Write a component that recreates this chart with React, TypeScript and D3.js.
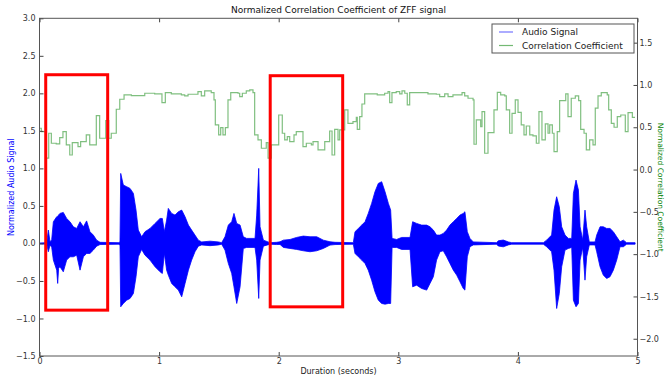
import React, { useEffect, useRef } from 'react';
import * as d3 from 'd3';

// Audio signal envelope (seconds, upper, lower)
const audioTime = [
  0, 0.06, 0.074, 0.088, 0.102, 0.116, 0.144, 0.152, 0.16, 0.171, 0.199, 0.227, 0.255, 0.283, 0.311, 0.339,
  0.367, 0.394, 0.422, 0.45, 0.478, 0.506, 0.659, 0.673, 0.679, 0.701, 0.729, 0.757, 0.785, 0.807, 0.826,
  0.854, 0.882, 0.924, 0.966, 1.008, 1.027, 1.044, 1.063, 1.077, 1.105, 1.133, 1.161, 1.189, 1.217, 1.245,
  1.272, 1.3, 1.328, 1.356, 1.426, 1.496, 1.523, 1.551, 1.579, 1.607, 1.626, 1.649, 1.677, 1.704, 1.732,
  1.802, 1.816, 1.833, 1.844, 1.872, 1.927, 1.983, 2.011, 2.039, 2.095, 2.15, 2.206, 2.262, 2.318, 2.373,
  2.429, 2.471, 2.624, 2.638, 2.666, 2.694, 2.722, 2.749, 2.777, 2.805, 2.833, 2.861, 2.889, 2.917, 2.936,
  2.948, 2.986, 3.028, 3.098, 3.12, 3.153, 3.195, 3.237, 3.265, 3.293, 3.32, 3.348, 3.376, 3.404, 3.432,
  3.46, 3.488, 3.516, 3.543, 3.557, 3.577, 3.599, 3.627, 3.822, 3.836, 3.878, 3.92, 3.948, 4.213, 4.24,
  4.282, 4.302, 4.324, 4.346, 4.366, 4.394, 4.422, 4.45, 4.464, 4.486, 4.506, 4.52, 4.542, 4.561, 4.575,
  4.597, 4.645, 4.659, 4.687, 4.714, 4.742, 4.77, 4.798, 4.826, 4.854, 4.882, 4.909, 4.937, 4.98,
];
const audioUpper = [
  0.005, 0.01, 0.178, 0.02, 0.05, 0.289, 0.356, 0.36, 0.38, 0.4, 0.413, 0.333, 0.289, 0.222, 0.2, 0.289,
  0.222, 0.3, 0.156, 0.111, 0.044, 0.015, 0.01, 0.02, 0.933, 0.778, 0.756, 0.733, 0.667, 0.444, 0.178,
  0.089, 0.156, 0.2, 0.267, 0.333, 0.333, 0.156, 0.311, 0.467, 0.4, 0.378, 0.422, 0.444, 0.356, 0.244,
  0.178, 0.111, 0.044, 0.02, 0.03, 0.02, 0.01, 0.089, 0.244, 0.289, 0.4, 0.267, 0.244, 0.089, 0.067,
  0.067, 0.378, 1.0, 0.222, 0.044, 0.01, 0.015, 0.022, 0.044, 0.053, 0.08, 0.098, 0.089, 0.089, 0.044,
  0.022, 0.015, 0.01, 0.156, 0.2, 0.244, 0.289, 0.4, 0.533, 0.689, 0.8, 0.822, 0.689, 0.533, 0.444,
  0.067, 0.053, 0.08, 0.08, 0.289, 0.267, 0.244, 0.244, 0.222, 0.178, 0.111, 0.111, 0.133, 0.178, 0.244,
  0.289, 0.333, 0.378, 0.4, 0.422, 0.156, 0.067, 0.02, 0.01, 0.035, 0.045, 0.02, 0.01, 0.01, 0.044,
  0.111, 0.444, 0.622, 0.489, 0.222, 0.111, 0.067, 0.067, 0.667, 0.844, 0.711, 0.222, 0.044, 0.444, 0.222,
  0.02, 0.02, 0.111, 0.222, 0.222, 0.2, 0.2, 0.156, 0.089, 0.022, 0.044, 0.01, 0.01, 0.01,
];
const audioLower = [
  -0.005, -0.01, -0.111, -0.02, -0.05, -0.222, -0.356, -0.533, -0.33, -0.311, -0.378, -0.222, -0.178, -0.178, -0.156, -0.356,
  -0.178, -0.133, -0.133, -0.089, -0.036, -0.015, -0.01, -0.02, -0.844, -0.8, -0.756, -0.733, -0.667, -0.444, -0.178,
  -0.08, -0.156, -0.222, -0.311, -0.378, -0.4, -0.133, -0.356, -0.422, -0.533, -0.578, -0.622, -0.711, -0.533, -0.356,
  -0.222, -0.111, -0.036, -0.02, -0.03, -0.02, -0.01, -0.089, -0.267, -0.4, -0.578, -0.8, -0.578, -0.067, -0.053,
  -0.053, -0.222, -0.733, -0.222, -0.036, -0.01, -0.015, -0.013, -0.053, -0.067, -0.08, -0.098, -0.111, -0.098, -0.067,
  -0.022, -0.015, -0.01, -0.133, -0.178, -0.222, -0.267, -0.356, -0.489, -0.644, -0.756, -0.8, -0.809, -0.8, -0.8,
  -0.053, -0.053, -0.08, -0.08, -0.578, -0.556, -0.6, -0.622, -0.533, -0.444, -0.222, -0.111, -0.098, -0.178, -0.267,
  -0.356, -0.422, -0.511, -0.6, -0.622, -0.178, -0.044, -0.02, -0.01, -0.035, -0.045, -0.02, -0.01, -0.01, -0.044,
  -0.111, -0.356, -0.867, -0.667, -0.311, -0.089, -0.067, -0.053, -0.756, -0.844, -0.8, -0.222, -0.053, -0.489, -0.178,
  -0.02, -0.02, -0.111, -0.311, -0.422, -0.467, -0.444, -0.356, -0.222, -0.044, -0.044, -0.01, -0.01, -0.01,
];

// Correlation coefficient steps: value held from each time until the next
const corrTime = [
  0, 0.015, 0.057, 0.077, 0.099, 0.14, 0.169, 0.196, 0.224, 0.253, 0.274, 0.322, 0.344, 0.391, 0.42, 0.475,
  0.503, 0.554, 0.579, 0.6, 0.642, 0.671, 0.707, 0.768, 0.88, 0.963, 1.024, 1.052, 1.102, 1.186, 1.214,
  1.242, 1.325, 1.353, 1.381, 1.436, 1.459, 1.47, 1.498, 1.515, 1.534, 1.554, 1.576, 1.599, 1.66, 1.674,
  1.696, 1.729, 1.758, 1.785, 1.799, 1.827, 1.855, 1.896, 1.911, 1.938, 2.0, 2.03, 2.05, 2.072, 2.092,
  2.128, 2.147, 2.203, 2.231, 2.273, 2.287, 2.329, 2.385, 2.426, 2.446, 2.468, 2.496, 2.51, 2.552, 2.579,
  2.621, 2.649, 2.657, 2.677, 2.696, 2.719, 2.824, 2.886, 2.914, 2.928, 2.947, 2.983, 3.012, 3.031, 3.054,
  3.075, 3.095, 3.248, 3.318, 3.346, 3.388, 3.416, 3.457, 3.533, 3.555, 3.583, 3.625, 3.633, 3.652, 3.689,
  3.7, 3.722, 3.75, 3.8, 3.828, 3.856, 3.89, 3.903, 3.931, 3.951, 3.978, 4.001, 4.028, 4.051, 4.07,
  4.099, 4.126, 4.154, 4.176, 4.201, 4.229, 4.252, 4.266, 4.288, 4.302, 4.329, 4.349, 4.4, 4.419, 4.446,
  4.48, 4.508, 4.525, 4.553, 4.572, 4.6, 4.628, 4.647, 4.67, 4.697, 4.747, 4.759, 4.781, 4.804, 4.831,
  4.86, 4.898, 4.921, 4.957,
];
const corrValue = [
  0.488, 0.448, 0.134, 0.429, 0.311, 0.303, 0.377, 0.448, 0.291, 0.172, 0.318, 0.271, 0.33, 0.409, 0.291, 0.637,
  0.37, 0.578, 0.37, 0.429, 0.713, 0.831, 0.882, 0.874, 0.902, 0.894, 0.791, 0.909, 0.894, 0.882, 0.87,
  0.89, 0.921, 0.87, 0.929, 0.909, 0.823, 0.528, 0.409, 0.495, 0.409, 0.495, 0.823, 0.909, 0.902, 0.862,
  0.902, 0.929, 0.941, 0.909, 0.409, 0.35, 0.252, 0.318, 0.134, 0.291, 0.645, 0.429, 0.35, 0.389, 0.33,
  0.409, 0.448, 0.271, 0.311, 0.291, 0.33, 0.232, 0.33, 0.456, 0.172, 0.476, 0.35, 0.468, 0.705, 0.547,
  0.566, 0.618, 0.476, 0.625, 0.775, 0.894, 0.882, 0.902, 0.921, 0.791, 0.909, 0.921, 0.894, 0.929, 0.902,
  0.764, 0.909, 0.894, 0.89, 0.862, 0.894, 0.862, 0.882, 0.909, 0.87, 0.843, 0.823, 0.299, 0.587, 0.507,
  0.684, 0.193, 0.436, 0.705, 0.913, 0.882, 0.87, 0.705, 0.429, 0.665, 0.823, 0.677, 0.528, 0.409, 0.515,
  0.409, 0.397, 0.311, 0.684, 0.35, 0.539, 0.429, 0.528, 0.429, 0.212, 0.448, 0.815, 0.894, 0.625, 0.843,
  0.87, 0.815, 0.476, 0.429, 0.232, 0.35, 0.291, 0.725, 0.87, 0.909, 0.882, 0.705, 0.547, 0.5, 0.625,
  0.645, 0.448, 0.673, 0.618,
];
const corrEnd = 4.979;

// Highlighted regions (seconds, left-axis units)
const boxStart = [0.052, 1.929];
const boxEnd = [0.57, 2.535];
const boxTop = [2.248, 2.235];
const boxBottom = [-0.889, -0.845];

const xTicks = [0, 1, 2, 3, 4, 5];
const leftTicks = [3.0, 2.5, 2.0, 1.5, 1.0, 0.5, 0.0, -0.5, -1.0, -1.5];
const rightTicks = [1.5, 1.0, 0.5, 0.0, -0.5, -1.0, -1.5, -2.0];
const legendLabels = ['Audio Signal', 'Correlation Coefficient'];

const App = () => {
  const svgRef = useRef<SVGSVGElement>(null);

  const width = 666;
  const height = 376;
  const margin = { top: 18.3, right: 28.5, bottom: 20, left: 39.5 };
  const font = 'DejaVu Sans, sans-serif';
  const blue = '#0000ff';
  const green = '#008000';

  useEffect(() => {
    document.body.style.margin = '0';
    const svg = d3.select(svgRef.current);
    svg.selectAll('*').remove();

    const x = d3.scaleLinear().domain([0, 5]).range([margin.left, width - margin.right]);
    const yL = d3.scaleLinear().domain([-1.5, 3]).range([height - margin.bottom, margin.top]);
    const yR = d3.scaleLinear().domain([-2.204, 1.788]).range([height - margin.bottom, margin.top]);
    const x0 = x(0), x1 = x(5), y0 = yL(-1.5), y1 = yL(3);

    svg.append('rect').attr('width', width).attr('height', height).attr('fill', '#fff');

    svg.append('clipPath').attr('id', 'plot-clip')
      .append('rect').attr('x', x0).attr('y', y1).attr('width', x1 - x0).attr('height', y0 - y1);

    const plot = svg.append('g').attr('clip-path', 'url(#plot-clip)');

    // Audio waveform envelope
    const audio = audioTime.map((t, i) => ({ t, hi: audioUpper[i], lo: audioLower[i] }));
    const area = d3.area<{ t: number; hi: number; lo: number }>()
      .x((d) => x(d.t))
      .y0((d) => yL(d.lo))
      .y1((d) => yL(d.hi));
    plot.append('path').datum(audio).attr('d', area)
      .attr('fill', blue).attr('stroke', blue).attr('stroke-width', 0.8);

    // Correlation step line
    const corr = corrTime.map((t, i) => ({ t, v: corrValue[i] }));
    corr.push({ t: corrEnd, v: corrValue[corrValue.length - 1] });
    const line = d3.line<{ t: number; v: number }>()
      .x((d) => x(d.t))
      .y((d) => yR(d.v))
      .curve(d3.curveStepAfter);
    plot.append('path').datum(corr).attr('d', line)
      .attr('fill', 'none').attr('stroke', green).attr('stroke-opacity', 0.5).attr('stroke-width', 1.2);

    // Red highlight boxes
    svg.append('g').selectAll('rect').data(boxStart).enter().append('rect')
      .attr('x', (d) => x(d))
      .attr('y', (_, i) => yL(boxTop[i]))
      .attr('width', (d, i) => x(boxEnd[i]) - x(d))
      .attr('height', (_, i) => yL(boxBottom[i]) - yL(boxTop[i]))
      .attr('fill', 'none').attr('stroke', '#ff0000').attr('stroke-width', 3);

    // Axes
    const styleAxis = (g: any, size = 8) => {
      g.selectAll('.domain').remove();
      g.selectAll('line').attr('stroke', '#444');
      g.selectAll('text').style('font-family', font).style('font-size', `${size}px`).attr('fill', '#333');
    };
    const fmt = d3.format('.1f');

    const bottom = svg.append('g').attr('transform', `translate(0,${y0})`)
      .call(d3.axisBottom(x).tickValues(xTicks).tickFormat(d3.format('d')).tickSize(-4).tickPadding(2));
    styleAxis(bottom);
    const top = svg.append('g').attr('transform', `translate(0,${y1})`)
      .call(d3.axisTop(x).tickValues(xTicks).tickFormat(() => '').tickSize(-4));
    styleAxis(top);
    const left = svg.append('g').attr('transform', `translate(${x0},0)`)
      .call(d3.axisLeft(yL).tickValues(leftTicks).tickFormat(fmt).tickSize(-4).tickPadding(4));
    styleAxis(left);
    const right = svg.append('g').attr('transform', `translate(${x1},0)`)
      .call(d3.axisRight(yR).tickValues(rightTicks).tickFormat(fmt).tickSize(-4).tickPadding(2));
    styleAxis(right);

    svg.append('rect').attr('x', x0).attr('y', y1).attr('width', x1 - x0).attr('height', y0 - y1)
      .attr('fill', 'none').attr('stroke', '#555').attr('stroke-width', 1);

    // Titles
    svg.append('text').attr('x', (x0 + x1) / 2).attr('y', 13).attr('text-anchor', 'middle')
      .style('font-family', font).style('font-size', '9px').attr('fill', '#111')
      .text('Normalized Correlation Coefficient of ZFF signal');
    svg.append('text').attr('x', (x0 + x1) / 2).attr('y', 374).attr('text-anchor', 'middle')
      .style('font-family', font).style('font-size', '8px').attr('fill', '#222')
      .text('Duration (seconds)');
    svg.append('text').attr('transform', `translate(14,${(y0 + y1) / 2}) rotate(-90)`).attr('text-anchor', 'middle')
      .style('font-family', font).style('font-size', '8px').attr('fill', blue)
      .text('Normalized Audio Signal');
    svg.append('text').attr('transform', `translate(658,${(y0 + y1) / 2}) rotate(90)`).attr('text-anchor', 'middle')
      .style('font-family', font).style('font-size', '7.5px').attr('fill', green)
      .text('Normalized Correlation Coefficient');

    // Legend
    const legend = svg.append('g').attr('transform', 'translate(492,24)');
    legend.append('rect').attr('width', 142).attr('height', 29)
      .attr('fill', '#fff').attr('stroke', '#555').attr('stroke-width', 1);
    legendLabels.forEach((label, i) => {
      const ly = 8 + i * 13.5;
      legend.append('line').attr('x1', 7).attr('x2', 21).attr('y1', ly).attr('y2', ly)
        .attr('stroke', i === 0 ? blue : green).attr('stroke-opacity', 0.55).attr('stroke-width', 1.2);
      legend.append('text').attr('x', 30).attr('y', ly + 3.2)
        .style('font-family', font).style('font-size', '9px').attr('fill', '#222').text(label);
    });
  }, []);

  return (
    <div>
      <svg ref={svgRef} width={width} height={height} style={{ display: 'block' }}></svg>
    </div>
  );
};

export default App;
